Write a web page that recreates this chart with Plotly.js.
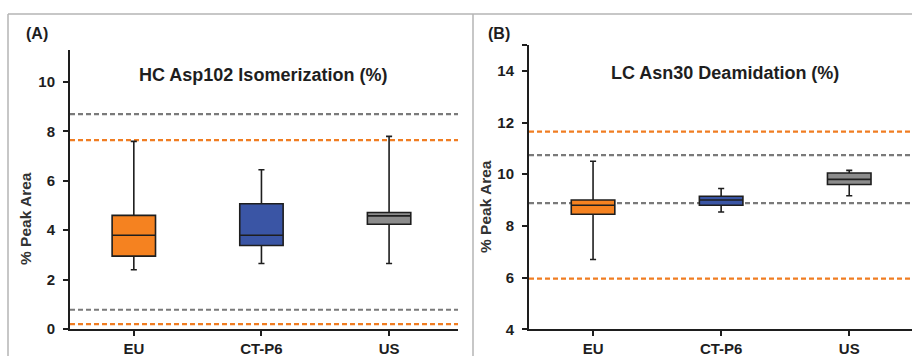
<!DOCTYPE html>
<html>
<head>
<meta charset="utf-8">
<script src="https://cdn.plot.ly/plotly-3.0.1.min.js"></script>
<style>html,body{margin:0;padding:0;background:#fff;}#chart{width:912px;height:356px;}</style>
</head>
<body>
<div id="chart"></div>
<script>
// ---- data ----
const categories = ["EU", "CT-P6", "US"];
const boxColors = ["#F58220", "#3A55A5", "#8C8C8C"];

// Panel A: HC Asp102 Isomerization (%)
const aLower  = [2.4, 2.65, 2.65];
const aQ1     = [2.95, 3.38, 4.24];
const aMedian = [3.8, 3.8, 4.58];
const aQ3     = [4.6, 5.07, 4.72];
const aUpper  = [7.6, 6.45, 7.8];
const aOrangeLimits = [7.65, 0.2];
const aGrayLimits   = [8.7, 0.78];
const aTicks = [0, 2, 4, 6, 8, 10];

// Panel B: LC Asn30 Deamidation (%)
const bLower  = [6.7, 8.54, 9.17];
const bQ1     = [8.45, 8.8, 9.6];
const bMedian = [8.8, 9.0, 9.8];
const bQ3     = [9.0, 9.15, 10.05];
const bUpper  = [10.5, 9.45, 10.15];
const bOrangeLimits = [11.65, 5.96];
const bGrayLimits   = [10.74, 8.88];
const bTicks = [4, 6, 8, 10, 12, 14, 15];
const bTickText = ["4", "6", "8", "10", "12", "14", ""];

const titleA = "HC Asp102 Isomerization (%)";
const titleB = "LC Asn30 Deamidation (%)";
const yTitle = "% Peak Area";

// ---- build ----
const W = 912, H = 356;
const px = v => v / W;
const py = v => 1 - v / H;
const FONT = "Liberation Sans, Arial, sans-serif";
const INK = "#1e1e1e";

const traces = [];
function addBoxes(xa, ya, lo, q1, med, q3, up) {
  categories.forEach((c, i) => {
    traces.push({
      type: "box", xaxis: xa, yaxis: ya,
      x: [c], lowerfence: [lo[i]], q1: [q1[i]], median: [med[i]], q3: [q3[i]], upperfence: [up[i]],
      width: 0.34, whiskerwidth: 0.14,
      fillcolor: boxColors[i],
      line: {color: INK, width: 1.6},
      boxpoints: false, hoverinfo: "skip", showlegend: false
    });
  });
}
addBoxes("x", "y", aLower, aQ1, aMedian, aQ3, aUpper);
addBoxes("x2", "y2", bLower, bQ1, bMedian, bQ3, bUpper);

const shapes = [];
function refLine(yref, val, color) {
  shapes.push({type: "line", xref: yref === "y" ? "x domain" : "x2 domain", yref: yref,
    x0: 0, x1: 1, y0: val, y1: val, layer: "below",
    line: {color: color, width: 2.2, dash: "5px,3px"}});
}
aGrayLimits.forEach(v => refLine("y", v, "#7a7a7a"));
aOrangeLimits.forEach(v => refLine("y", v, "#F07D22"));
bGrayLimits.forEach(v => refLine("y2", v, "#7a7a7a"));
bOrangeLimits.forEach(v => refLine("y2", v, "#F07D22"));

// frame lines
const frameColor = "#b4b4b4";
shapes.push({type: "line", xref: "paper", yref: "paper", x0: px(8), x1: 1, y0: py(14), y1: py(14), line: {color: frameColor, width: 1.5}});
shapes.push({type: "line", xref: "paper", yref: "paper", x0: px(8), x1: px(8), y0: py(14), y1: 0, line: {color: frameColor, width: 1.5}});
shapes.push({type: "line", xref: "paper", yref: "paper", x0: px(473), x1: px(473), y0: py(14), y1: 0, line: {color: frameColor, width: 1.5}});

const tickFont = {family: FONT, size: 15, color: INK, weight: "bold"};
const axCommon = {
  showline: true, linecolor: INK, linewidth: 2, ticks: "outside", ticklen: 5, tickwidth: 2,
  tickcolor: INK, showgrid: false, zeroline: false, tickfont: tickFont, fixedrange: true
};

const layout = {
  width: W, height: H, margin: {l: 0, r: 0, t: 0, b: 0},
  paper_bgcolor: "#fff", plot_bgcolor: "rgba(0,0,0,0)",
  showlegend: false, boxmode: "overlay",
  xaxis: Object.assign({}, axCommon, {domain: [px(70), px(458)], range: [-0.5, 2.54],
    type: "category", categoryorder: "array", categoryarray: categories, anchor: "y"}),
  yaxis: Object.assign({}, axCommon, {domain: [1 - 329 / H, 1 - 50 / H], range: [0, 11.3],
    tickvals: aTicks, anchor: "x", ticklabelstandoff: 5}),
  xaxis2: Object.assign({}, axCommon, {domain: [px(529), 1], range: [-0.5, 2.49],
    type: "category", categoryorder: "array", categoryarray: categories, anchor: "y2"}),
  yaxis2: Object.assign({}, axCommon, {domain: [1 - 329.3 / H, 1 - 45 / H], range: [4, 15],
    tickvals: bTicks, ticktext: bTickText, anchor: "x2", ticklabelstandoff: 5}),
  shapes: shapes,
  annotations: [
    {text: "(A)", xref: "paper", yref: "paper", x: px(24), y: py(33), xanchor: "left", yanchor: "middle",
      showarrow: false, font: {family: FONT, size: 16, color: INK, weight: "bold"}},
    {text: "(B)", xref: "paper", yref: "paper", x: px(486), y: py(33), xanchor: "left", yanchor: "middle",
      showarrow: false, font: {family: FONT, size: 16, color: INK, weight: "bold"}},
    {text: titleA, xref: "paper", yref: "paper", x: px(263), y: py(75), xanchor: "center", yanchor: "middle",
      showarrow: false, font: {family: FONT, size: 18, color: INK, weight: "bold"}},
    {text: titleB, xref: "paper", yref: "paper", x: px(725), y: py(73), xanchor: "center", yanchor: "middle",
      showarrow: false, font: {family: FONT, size: 18, color: INK, weight: "bold"}},
    {text: yTitle, xref: "paper", yref: "paper", x: px(25), y: py(219), xanchor: "center", yanchor: "middle",
      textangle: -90, showarrow: false, font: {family: FONT, size: 15.5, color: "#333", weight: "bold"}},
    {text: yTitle, xref: "paper", yref: "paper", x: px(485), y: py(207), xanchor: "center", yanchor: "middle",
      textangle: -90, showarrow: false, font: {family: FONT, size: 15.5, color: "#333", weight: "bold"}}
  ]
};

Plotly.newPlot("chart", traces, layout, {staticPlot: true, displayModeBar: false});
</script>
</body>
</html>
